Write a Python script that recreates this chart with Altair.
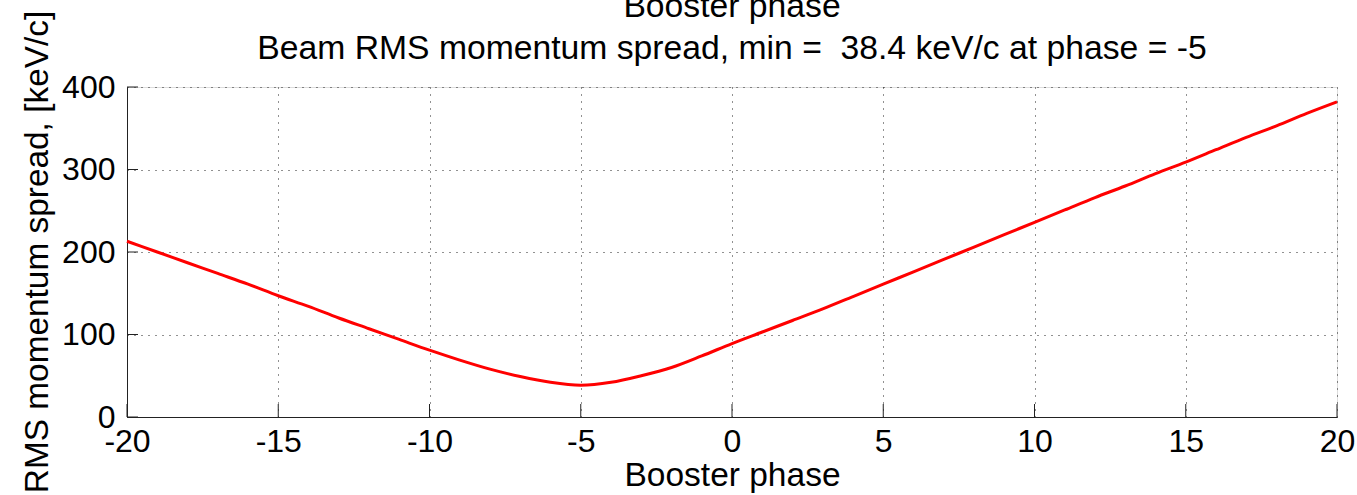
import altair as alt
import pandas as pd

phase = list(range(-20, 21))
spread = [213, 200, 187, 174, 161, 147, 134, 120, 107, 94, 81, 69, 58, 49, 42,
          38.5, 42, 50, 60, 74, 89, 103, 117, 131, 146, 161, 176, 191, 206, 221,
          236, 251, 266, 280, 295, 309, 324, 339, 353, 368, 382]
x_ticks = [-20, -15, -10, -5, 0, 5, 10, 15, 20]
y_ticks = [0, 100, 200, 300, 400]

title_line1 = "Booster phase"
title_line2 = "Beam RMS momentum spread, min =\u00a0 38.4 keV/c at phase = -5"

df = pd.DataFrame({"phase": phase, "spread": spread})
dfx = pd.DataFrame({"t": x_ticks})
dfy = pd.DataFrame({"t": y_ticks})

FONT = "Liberation Sans"
W, H = 1210, 330

xscale = alt.Scale(domain=[-20, 20], nice=False, zero=False)
yscale = alt.Scale(domain=[0, 400], nice=False)

line = alt.Chart(df).mark_line(color="#ff0000", strokeWidth=3, interpolate="monotone").encode(
    x=alt.X("phase:Q", scale=xscale,
            axis=alt.Axis(values=x_ticks, title="Booster phase", titleFontSize=33.5,
                          titleFont=FONT, titleFontWeight="normal", titleColor="black",
                          titleY=68, titleBaseline="alphabetic",
                          labelFont=FONT, labelFontSize=32, labelColor="black",
                          labelExpr="'' + datum.value",
                          labelPadding=9, ticks=False, domainColor="#222",
                          labelFlush=False, labelOverlap=False,
                          grid=True, gridDash=[1, 6], gridColor="#222", gridOpacity=1)),
    y=alt.Y("spread:Q", scale=yscale,
            axis=alt.Axis(values=y_ticks, title="RMS momentum spread, [keV/c]",
                          titleFontSize=33.4, titleFont=FONT, titleFontWeight="normal",
                          titleColor="black", titleAngle=270, titleX=-80, titleY=164.5,
                          titleAlign="center", titleBaseline="alphabetic",
                          labelFont=FONT, labelFontSize=32, labelColor="black",
                          labelPadding=12, ticks=False, domainColor="#222",
                          labelFlush=False, labelOverlap=False,
                          grid=True, gridDash=[1, 6], gridColor="#222", gridOpacity=1)),
)

xt = alt.Chart(dfx).mark_rule(color="#222", strokeWidth=1).encode(
    x=alt.X("t:Q", scale=xscale), y=alt.value(H), y2=alt.value(H - 13))
yt = alt.Chart(dfy).mark_rule(color="#222", strokeWidth=1).encode(
    y=alt.Y("t:Q", scale=yscale), x=alt.value(0), x2=alt.value(11))

t1 = alt.Chart(pd.DataFrame({"s": [title_line1]})).mark_text(
    font=FONT, fontSize=33.7, color="black", align="center", baseline="alphabetic"
).encode(text="s:N", x=alt.value(W / 2), y=alt.value(-70))
t2 = alt.Chart(pd.DataFrame({"s": [title_line2]})).mark_text(
    font=FONT, fontSize=33.7, color="black", align="center", baseline="alphabetic"
).encode(text="s:N", x=alt.value(W / 2), y=alt.value(-28))

chart = alt.layer(xt, yt, line, t1, t2).properties(
    width=W, height=H,
    autosize=alt.AutoSizeParams(type="none"),
    padding={"left": 127, "top": 87, "right": 20, "bottom": 78},
).configure_view(stroke=None).configure(background="white")

chart.save("out.html", embed_options={"renderer": "svg", "actions": False})
